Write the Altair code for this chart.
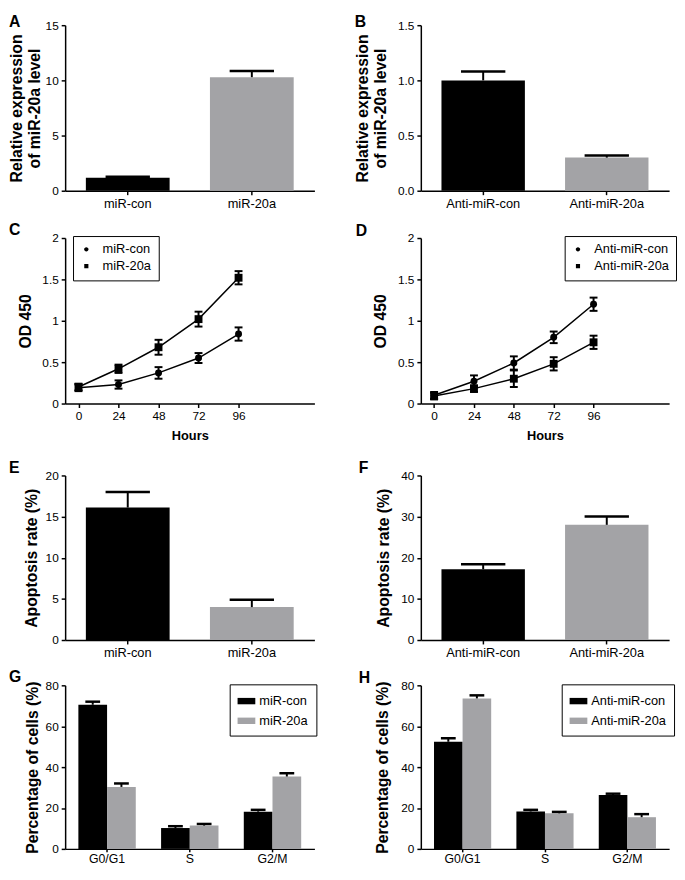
import altair as alt
import pandas as pd

FONT = "Liberation Sans"
GREY = "#a3a3a6"

# ---------------- data ----------------
a_groups = ["miR-con", "miR-20a"]
a_values = [1.18, 10.29]
a_errors = [0.08, 0.56]

b_groups = ["Anti-miR-con", "Anti-miR-20a"]
b_values = [1.00, 0.30]
b_errors = [0.08, 0.02]

hours = [0, 24, 48, 72, 96]
c_series = ["miR-con", "miR-20a"]
c_con = [0.19, 0.23, 0.37, 0.55, 0.84]
c_con_err = [0.04, 0.05, 0.07, 0.06, 0.08]
c_20a = [0.20, 0.42, 0.68, 1.02, 1.52]
c_20a_err = [0.04, 0.05, 0.09, 0.09, 0.08]

d_series = ["Anti-miR-con", "Anti-miR-20a"]
d_con = [0.10, 0.27, 0.49, 0.80, 1.20]
d_con_err = [0.04, 0.07, 0.08, 0.07, 0.08]
d_20a = [0.09, 0.18, 0.30, 0.48, 0.74]
d_20a_err = [0.04, 0.04, 0.10, 0.08, 0.08]

e_values = [16.1, 4.0]
e_errors = [1.9, 0.9]

f_values = [17.2, 28.0]
f_errors = [1.2, 2.0]

phases = ["G0/G1", "S", "G2/M"]
g_con = [70.5, 10.2, 18.2]
g_con_err = [1.5, 0.9, 0.9]
g_20a = [30.3, 11.4, 35.4]
g_20a_err = [1.7, 0.8, 1.6]

h_con = [52.4, 18.3, 26.3]
h_con_err = [1.7, 0.8, 0.7]
h_20a = [73.6, 17.4, 15.5]
h_20a_err = [1.5, 0.7, 1.5]

LEFT_W = 253
RIGHT_W = 252

CIRCLE_LEG = "M-1,0L1,0M0.45,0A0.45,0.45,0,1,1,-0.45,0A0.45,0.45,0,1,1,0.45,0Z"
SQUARE_LEG = "M-1,0L1,0M-0.42,-0.42L0.42,-0.42L0.42,0.42L-0.42,0.42Z"
RECT_LEG = "M-1,-0.36L1,-0.36L1,0.36L-1,0.36Z"


def letter_layer(letter, lx, ly):
    return alt.Chart(pd.DataFrame({"t": [letter]})).mark_text(
        align="left", baseline="top", fontSize=16, fontWeight="bold",
        font=FONT, color="black"
    ).encode(text="t:N", x=alt.value(lx), y=alt.value(ly))


def bar_panel(groups, values, errors, ymax, yticks, yfmt, title, tpad,
              width, height, top, letter, lx, ly, capw=45):
    df = pd.DataFrame({
        "g": groups,
        "v": values,
        "hi": [v + e for v, e in zip(values, errors)],
    })
    xs = alt.Scale(paddingInner=0.325, paddingOuter=0.167)
    ys = alt.Scale(domain=[0, ymax], range=[height, top], nice=False)
    x = alt.X("g:N", sort=groups, scale=xs,
              axis=alt.Axis(title=None, labelAngle=0, labelFontSize=13))
    y = alt.Y("v:Q", scale=ys,
              axis=alt.Axis(values=yticks, format=yfmt, title=title,
                            titlePadding=tpad, titleLineHeight=18))
    base = alt.Chart(df)
    bars = base.mark_bar().encode(
        x=x, y=y,
        color=alt.Color("g:N", scale=alt.Scale(domain=groups, range=["black", GREY]),
                        legend=None),
    )
    rule = base.mark_rule(color="black", strokeWidth=2).encode(
        x=alt.X("g:N", sort=groups), y=alt.Y("v:Q", title=title), y2="hi:Q")
    cap = base.mark_tick(color="black", thickness=2.5, size=capw,
                         orient="horizontal", opacity=1).encode(
        x=alt.X("g:N", sort=groups), y=alt.Y("hi:Q", title=title))
    return alt.layer(bars, rule, cap, letter_layer(letter, lx, ly)).properties(
        width=width, height=height)


def line_panel(series, s1, e1, s2, e2, width, height, letter, lx, ly,
               legx, legy, tpad):
    rows = []
    for s, vals, errs in ((series[0], s1, e1), (series[1], s2, e2)):
        for h, v, e in zip(hours, vals, errs):
            rows.append({"h": h, "s": s, "v": v, "lo": v - e, "hi": v + e})
    df = pd.DataFrame(rows)
    x = alt.X("h:Q", scale=alt.Scale(domain=[-8, 141.5], nice=False, zero=False),
              axis=alt.Axis(values=hours, title="Hours", titleFontSize=13,
                            titlePadding=8))
    y = alt.Y("v:Q", scale=alt.Scale(domain=[0, 2], nice=False),
              axis=alt.Axis(values=[0, 0.5, 1, 1.5, 2], format="~g",
                            title="OD 450", titlePadding=tpad))
    base = alt.Chart(df)
    line = base.mark_line(color="black", strokeWidth=1.5).encode(
        x=x, y=y, detail="s:N")
    rule = base.mark_rule(color="black", strokeWidth=2).encode(
        x="h:Q", y=alt.Y("lo:Q", title="OD 450"), y2="hi:Q")
    cap_lo = base.mark_tick(color="black", thickness=2, size=8,
                            orient="horizontal", opacity=1).encode(
        x="h:Q", y=alt.Y("lo:Q", title="OD 450"))
    cap_hi = base.mark_tick(color="black", thickness=2, size=8,
                            orient="horizontal", opacity=1).encode(
        x="h:Q", y=alt.Y("hi:Q", title="OD 450"))
    pts = base.mark_point(filled=True, color="black", opacity=1).encode(
        x="h:Q", y=alt.Y("v:Q", title="OD 450"),
        shape=alt.Shape("s:N", scale=alt.Scale(domain=series, range=["circle", "square"]),
                        legend=None),
        size=alt.Size("s:N", scale=alt.Scale(domain=series, range=[50, 64]),
                      legend=None),
    )
    leg = base.mark_point(filled=True, color="black", stroke="black",
                          strokeWidth=1.5, opacity=0).encode(
        x="h:Q", y=alt.Y("v:Q", title="OD 450"),
        shape=alt.Shape("s:N", scale=alt.Scale(domain=series, range=[CIRCLE_LEG, SQUARE_LEG]),
                        legend=alt.Legend(
                            title=None, orient="none", legendX=legx, legendY=legy,
                            strokeColor="black", padding=7,
                            labelFont=FONT, labelFontSize=13, labelColor="black",
                            labelOffset=10, rowPadding=3, symbolSize=100,
                            symbolStrokeColor="black", symbolFillColor="black",
                            symbolStrokeWidth=1.5)),
    )
    return alt.layer(line, rule, cap_lo, cap_hi, pts, leg,
                     letter_layer(letter, lx, ly)).resolve_scale(
        shape="independent").properties(width=width, height=height)


def group_panel(groups, v1, e1, v2, e2, width, height, top, letter, lx, ly,
                legx, legy, tpad):
    rows = []
    for gname, vals, errs in ((groups[0], v1, e1), (groups[1], v2, e2)):
        for p, v, e in zip(phases, vals, errs):
            rows.append({"p": p, "g": gname, "v": v, "hi": v + e})
    df = pd.DataFrame(rows)
    title = "Percentage of cells (%)"
    x = alt.X("p:N", sort=phases, scale=alt.Scale(paddingInner=0.306, paddingOuter=0.16),
              axis=alt.Axis(title=None, labelAngle=0, labelFontSize=12.5,
                            tickSize=3, labelPadding=1))
    xo = alt.XOffset("g:N", sort=groups,
                     scale=alt.Scale(domain=groups, paddingInner=0, paddingOuter=0))
    y = alt.Y("v:Q", scale=alt.Scale(domain=[0, 80], range=[height, top], nice=False),
              axis=alt.Axis(values=[0, 20, 40, 60, 80], format="d", title=title,
                            titlePadding=tpad))
    base = alt.Chart(df)
    bars = base.mark_bar().encode(
        x=x, xOffset=xo, y=y,
        color=alt.Color("g:N",
                        scale=alt.Scale(domain=groups, range=["black", GREY]),
                        legend=alt.Legend(
                            title=None, orient="none", legendX=legx, legendY=legy,
                            strokeColor="black", padding=8,
                            labelFont=FONT, labelFontSize=13, labelColor="black",
                            labelOffset=4, rowPadding=4, symbolType=RECT_LEG,
                            symbolSize=324, symbolStrokeWidth=0)),
    )
    rule = base.mark_rule(color="black", strokeWidth=2).encode(
        x=alt.X("p:N", sort=phases), xOffset=alt.XOffset("g:N", sort=groups),
        y=alt.Y("v:Q", title=title), y2="hi:Q")
    cap = base.mark_tick(color="black", thickness=2.5, size=15,
                         orient="horizontal", opacity=1).encode(
        x=alt.X("p:N", sort=phases), xOffset=alt.XOffset("g:N", sort=groups),
        y=alt.Y("hi:Q", title=title))
    return alt.layer(bars, rule, cap, letter_layer(letter, lx, ly)).properties(
        width=width, height=height)


REL = ["Relative expression", "of miR-20a level"]
APO = "Apoptosis rate (%)"

pA = bar_panel(a_groups, a_values, a_errors, 15, [0, 5, 10, 15], "d", REL, 3,
               LEFT_W, 168, 0, "A", -57, -11)
pB = bar_panel(b_groups, b_values, b_errors, 1.5, [0, 0.5, 1.0, 1.5], ".1f", REL, 9,
               RIGHT_W, 168, 0, "B", -67, -11)
pC = line_panel(c_series, c_con, c_con_err, c_20a, c_20a_err, LEFT_W, 168,
                "C", -57, -16, 8, -2, 8)
pD = line_panel(d_series, d_con, d_con_err, d_20a, d_20a_err, RIGHT_W, 168,
                "D", -66, -15, 146, -2, 9)
pE = bar_panel(a_groups, e_values, e_errors, 20, [0, 5, 10, 15, 20], "d", APO, 6,
               LEFT_W, 192, 25, "E", -57, 9)
pF = bar_panel(b_groups, f_values, f_errors, 40, [0, 10, 20, 30, 40], "d", APO, 9,
               RIGHT_W, 192, 25, "F", -63, 10)
pG = group_panel(c_series, g_con, g_con_err, g_20a, g_20a_err, LEFT_W, 164, -2,
                 "G", -57, -18, 167, -3, 5)
pH = group_panel(d_series, h_con, h_con_err, h_20a, h_20a_err, RIGHT_W, 164, -2,
                 "H", -63, -17, 143, -3, 10)

chart = alt.concat(
    pA, pB, pC, pD, pE, pF, pG, pH,
    columns=2,
    spacing={"row": 48, "column": 108},
    bounds="flush",
    align="each",
    padding=0,
).resolve_scale(
    color="independent", xOffset="independent", shape="independent",
    size="independent",
).resolve_legend(
    color="independent", shape="independent",
).configure(font=FONT).configure_axis(
    domainColor="black", domainWidth=1.5, tickColor="black", tickWidth=1.5,
    tickSize=4, labelColor="black", labelFont=FONT, labelFontSize=12,
    labelPadding=3, titleFont=FONT, titleFontSize=16, titleFontWeight="bold",
    titleColor="black", grid=False,
).configure_legend(strokeWidth=1).configure_view(strokeWidth=0)

chart.save("out.html", embed_options={"renderer": "svg", "actions": False})
